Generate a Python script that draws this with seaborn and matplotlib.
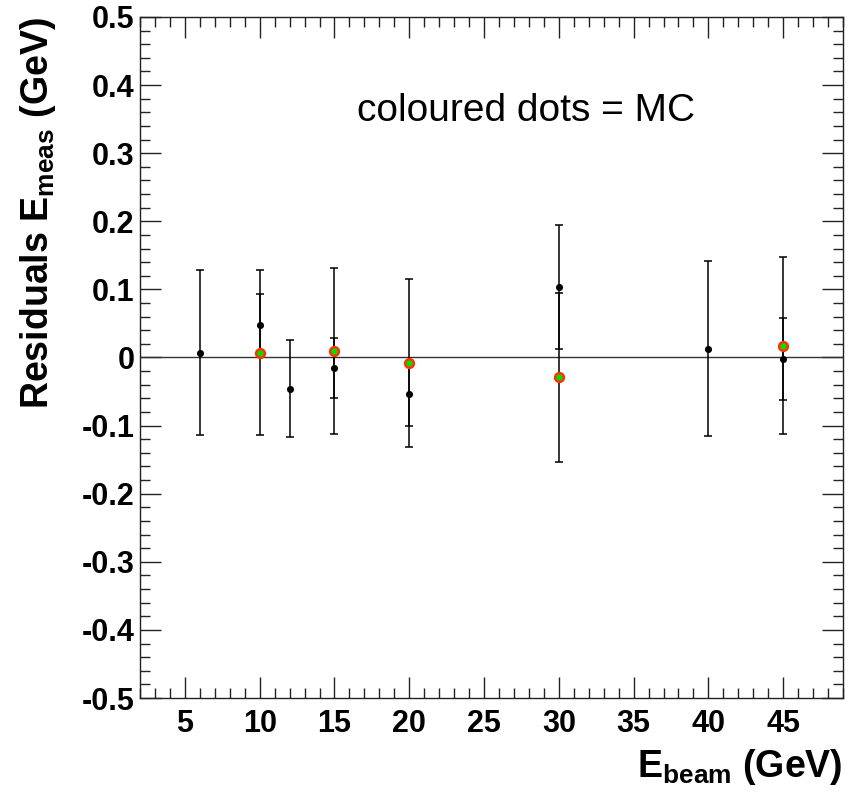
import matplotlib
matplotlib.use("Agg")
import matplotlib.pyplot as plt
import seaborn as sns
import pandas as pd
from matplotlib.ticker import MultipleLocator

# measured data points
data_x = [6, 10, 12, 15, 20, 30, 40, 45]
data_y = [0.007, 0.048, -0.046, -0.016, -0.053, 0.103, 0.013, -0.002]
data_err = [0.121, 0.045, 0.071, 0.044, 0.047, 0.091, 0.128, 0.060]

# MC points (coloured dots)
mc_x = [10, 15, 20, 30, 45]
mc_y = [0.007, 0.009, -0.008, -0.029, 0.017]
mc_err = [0.121, 0.122, 0.123, 0.124, 0.130]

x_ticks = [5, 10, 15, 20, 25, 30, 35, 40, 45]
y_ticks = [-0.5, -0.4, -0.3, -0.2, -0.1, 0, 0.1, 0.2, 0.3, 0.4, 0.5]
y_tick_labels = ['-0.5', '-0.4', '-0.3', '-0.2', '-0.1', '0', '0.1', '0.2', '0.3', '0.4', '0.5']

sns.set_style("ticks")
plt.rcParams['font.family'] = ['Liberation Sans', 'DejaVu Sans']
plt.rcParams['mathtext.fontset'] = 'custom'
plt.rcParams['mathtext.bf'] = 'Liberation Sans:bold'
plt.rcParams['mathtext.rm'] = 'Liberation Sans:bold'
plt.rcParams['text.color'] = 'black'
plt.rcParams['axes.labelcolor'] = 'black'
plt.rcParams['xtick.color'] = 'black'
plt.rcParams['ytick.color'] = 'black'

df_data = pd.DataFrame({'x': data_x, 'y': data_y, 'err': data_err})
df_mc = pd.DataFrame({'x': mc_x, 'y': mc_y, 'err': mc_err})

fig = plt.figure(figsize=(8.59, 7.94), dpi=100)
ax = fig.add_axes([0.163, 0.1209, 0.8184, 0.8577])

ax.axhline(0, color='#333333', lw=1.0, zorder=1)

# error bars
ax.errorbar(df_mc['x'], df_mc['y'], yerr=df_mc['err'], fmt='none',
            ecolor='black', elinewidth=1.1, capsize=3, capthick=1.1, zorder=2)
ax.errorbar(df_data['x'], df_data['y'], yerr=df_data['err'], fmt='none',
            ecolor='black', elinewidth=1.1, capsize=3, capthick=1.1, zorder=2)

# markers
sns.scatterplot(data=df_data, x='x', y='y', ax=ax, color='black', s=26,
                edgecolor='black', linewidth=0, zorder=3)
sns.scatterplot(data=df_mc, x='x', y='y', ax=ax, color='#00e000', s=40,
                edgecolor='#ff3300', linewidth=1.8, zorder=4)

ax.set_xlim(2, 49)
ax.set_ylim(-0.5, 0.5)
ax.set_xticks(x_ticks)
ax.set_yticks(y_ticks)
ax.set_yticklabels(y_tick_labels)
ax.xaxis.set_minor_locator(MultipleLocator(1))
ax.yaxis.set_minor_locator(MultipleLocator(0.02))

ax.tick_params(which='both', direction='in', top=True, right=True,
               labelsize=22, width=1, color='#222222', labelcolor='black')
ax.tick_params(which='major', length=15)
ax.tick_params(which='minor', length=7.5)
ax.tick_params(axis='x', pad=8)
ax.tick_params(axis='y', pad=4)
for lab in ax.get_xticklabels() + ax.get_yticklabels():
    lab.set_fontweight('bold')

for sp in ax.spines.values():
    sp.set_linewidth(1.0)
    sp.set_color('#222222')

ax.set_xlabel(r'$\mathbf{E_{beam}}$ (GeV)', fontsize=27, fontweight='bold', loc='right')
ax.set_ylabel(r'Residuals $\mathbf{E_{meas}}$ (GeV)', fontsize=27, fontweight='bold', loc='top')
ax.xaxis.set_label_coords(1.0, -0.072)
ax.yaxis.set_label_coords(-0.117, 1.0)

ax.text(16.5, 0.348, 'coloured dots = MC', fontsize=28, color='black')

fig.savefig('out.png', dpi=100)
